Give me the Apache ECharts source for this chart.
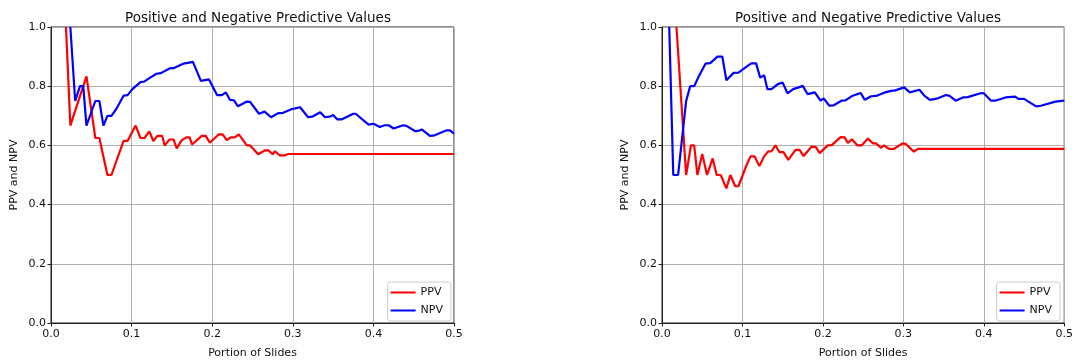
<!DOCTYPE html>
<html>
<head>
<meta charset="utf-8">
<script src="https://cdn.jsdelivr.net/npm/echarts@6/dist/echarts.min.js"></script>
<style>
html,body{margin:0;padding:0;background:#fff;}
#c{width:1076px;height:364px;}
</style>
</head>
<body>
<div id="c"></div>
<script>
const titleText = "Positive and Negative Predictive Values";
const xName = "Portion of Slides";
const yName = "PPV and NPV";
const seriesNames = ["PPV", "NPV"];
const xTicks = [0.0, 0.1, 0.2, 0.3, 0.4, 0.5];
const yTicks = [0.0, 0.2, 0.4, 0.6, 0.8, 1.0];

const leftPPV = [[0.0186,1.0],[0.024,0.667],[0.040,0.80],[0.044,0.833],[0.055,0.625],[0.060,0.625],[0.070,0.5],[0.075,0.5],[0.090,0.615],[0.095,0.615],[0.105,0.667],[0.111,0.625],[0.116,0.625],[0.122,0.647],[0.127,0.615],[0.132,0.632],[0.138,0.632],[0.141,0.60],[0.147,0.62],[0.152,0.62],[0.156,0.59],[0.162,0.617],[0.168,0.627],[0.172,0.627],[0.175,0.603],[0.187,0.632],[0.192,0.632],[0.197,0.609],[0.208,0.637],[0.213,0.637],[0.218,0.618],[0.223,0.627],[0.228,0.627],[0.233,0.637],[0.243,0.60],[0.247,0.60],[0.257,0.57],[0.265,0.583],[0.270,0.583],[0.275,0.57],[0.278,0.58],[0.284,0.566],[0.290,0.566],[0.294,0.571],[0.5,0.571]];
const leftNPV = [[0.024,1.0],[0.030,0.75],[0.036,0.80],[0.040,0.80],[0.044,0.667],[0.055,0.75],[0.060,0.75],[0.065,0.667],[0.070,0.70],[0.075,0.70],[0.081,0.723],[0.090,0.768],[0.095,0.77],[0.101,0.79],[0.111,0.814],[0.116,0.816],[0.123,0.829],[0.131,0.842],[0.136,0.844],[0.141,0.851],[0.147,0.86],[0.152,0.861],[0.158,0.868],[0.164,0.876],[0.170,0.879],[0.176,0.882],[0.186,0.818],[0.196,0.823],[0.206,0.77],[0.212,0.77],[0.217,0.779],[0.222,0.754],[0.227,0.752],[0.232,0.732],[0.243,0.748],[0.247,0.747],[0.258,0.707],[0.265,0.714],[0.273,0.695],[0.282,0.709],[0.288,0.71],[0.299,0.723],[0.303,0.725],[0.309,0.729],[0.319,0.695],[0.324,0.697],[0.334,0.712],[0.340,0.695],[0.347,0.698],[0.350,0.703],[0.355,0.688],[0.361,0.688],[0.375,0.707],[0.378,0.707],[0.394,0.67],[0.400,0.673],[0.408,0.662],[0.414,0.668],[0.419,0.668],[0.425,0.657],[0.437,0.668],[0.441,0.666],[0.452,0.648],[0.457,0.65],[0.460,0.654],[0.470,0.632],[0.476,0.634],[0.491,0.651],[0.495,0.651],[0.5,0.64]];
const rightPPV = [[0.018,1.0],[0.030,0.5],[0.036,0.6],[0.040,0.6],[0.044,0.5],[0.050,0.571],[0.056,0.5],[0.063,0.556],[0.068,0.5],[0.073,0.5],[0.080,0.455],[0.085,0.5],[0.091,0.462],[0.095,0.462],[0.105,0.533],[0.110,0.563],[0.115,0.563],[0.121,0.53],[0.127,0.563],[0.132,0.58],[0.136,0.58],[0.141,0.60],[0.146,0.577],[0.151,0.577],[0.157,0.551],[0.166,0.585],[0.171,0.585],[0.176,0.564],[0.186,0.596],[0.191,0.595],[0.196,0.574],[0.206,0.60],[0.211,0.601],[0.222,0.628],[0.227,0.627],[0.231,0.608],[0.236,0.621],[0.243,0.60],[0.248,0.60],[0.256,0.623],[0.262,0.607],[0.266,0.607],[0.272,0.592],[0.276,0.60],[0.282,0.588],[0.288,0.588],[0.299,0.607],[0.303,0.605],[0.313,0.579],[0.318,0.588],[0.5,0.588]];
const rightNPV = [[0.009,1.0],[0.014,0.5],[0.020,0.5],[0.030,0.75],[0.035,0.80],[0.040,0.80],[0.045,0.829],[0.054,0.876],[0.060,0.878],[0.069,0.90],[0.075,0.90],[0.080,0.82],[0.089,0.845],[0.095,0.846],[0.106,0.868],[0.111,0.877],[0.117,0.877],[0.122,0.829],[0.127,0.837],[0.131,0.79],[0.136,0.79],[0.144,0.807],[0.150,0.812],[0.156,0.776],[0.163,0.79],[0.170,0.796],[0.175,0.801],[0.181,0.773],[0.190,0.779],[0.197,0.751],[0.201,0.759],[0.208,0.734],[0.213,0.735],[0.223,0.751],[0.228,0.752],[0.237,0.768],[0.247,0.777],[0.252,0.754],[0.260,0.766],[0.266,0.767],[0.277,0.779],[0.285,0.784],[0.290,0.786],[0.301,0.796],[0.308,0.779],[0.320,0.788],[0.326,0.768],[0.333,0.754],[0.343,0.759],[0.353,0.77],[0.357,0.768],[0.365,0.751],[0.374,0.762],[0.380,0.763],[0.397,0.777],[0.400,0.776],[0.409,0.751],[0.414,0.751],[0.427,0.762],[0.439,0.765],[0.443,0.757],[0.450,0.757],[0.465,0.732],[0.471,0.734],[0.489,0.748],[0.5,0.751]];

const colors = ['#ff0000', '#0000ff'];
const font = 'DejaVu Sans';

const grids = [
  {left: 51, right: 622, top: 27, bottom: 37},
  {left: 662, right: 11, top: 27, bottom: 37}
];

function xAxisFor(i) {
  return {
    gridIndex: i, type: 'value', min: xTicks[0], max: xTicks[xTicks.length-1], interval: 0.1,
    name: xName, nameLocation: 'middle', nameGap: 25,
    nameTextStyle: {fontFamily: font, fontSize: 11, color: '#111'},
    axisLine: {show: true, onZero: false, lineStyle: {color: '#222', width: 1}},
    axisTick: {show: true, length: 3.5, lineStyle: {color: '#222'}},
    axisLabel: {fontFamily: font, fontSize: 11, color: '#111', margin: 6, formatter: v => v.toFixed(1)},
    splitLine: {show: true, lineStyle: {color: '#b0b0b0', width: 1}}
  };
}
function yAxisFor(i) {
  return {
    gridIndex: i, type: 'value', min: yTicks[0], max: yTicks[yTicks.length-1], interval: 0.2,
    name: yName, nameLocation: 'middle', nameGap: 31,
    nameTextStyle: {fontFamily: font, fontSize: 11, color: '#111'},
    axisLine: {show: true, onZero: false, lineStyle: {color: '#222', width: 1}},
    axisTick: {show: true, length: 3.5, lineStyle: {color: '#222'}},
    axisLabel: {fontFamily: font, fontSize: 11, color: '#111', margin: 5, formatter: v => v.toFixed(1)},
    splitLine: {show: true, lineStyle: {color: '#b0b0b0', width: 1}}
  };
}

function lineSeries(name, data, idx, color) {
  return {
    name: name, type: 'line', xAxisIndex: idx, yAxisIndex: idx, data: data,
    symbol: 'none', showSymbol: false, clip: true, animation: false,
    lineStyle: {color: color, width: 2.2}, itemStyle: {color: color}
  };
}

function legendFor(right) {
  return {
    data: seriesNames, orient: 'vertical', right: right, bottom: 43,
    itemWidth: 25, itemHeight: 10, itemGap: 7,
    padding: [5, 8, 5, 3],
    backgroundColor: '#fff', borderColor: '#cccccc', borderWidth: 1, borderRadius: 3,
    textStyle: {fontFamily: font, fontSize: 11, color: '#111'},
    icon: 'path://M0,4 L25,4 L25,6 L0,6 Z'
  };
}

const chart = echarts.init(document.getElementById('c'), null, {renderer: 'canvas'});
chart.setOption({
  animation: false,
  backgroundColor: '#fff',
  title: [
    {text: titleText, left: 253, top: 6, textAlign: 'center', textStyle: {fontFamily: font, fontSize: 13.5, fontWeight: 'normal', color: '#111'}},
    {text: titleText, left: 863, top: 6, textAlign: 'center', textStyle: {fontFamily: font, fontSize: 13.5, fontWeight: 'normal', color: '#111'}}
  ],
  grid: grids.map(g => Object.assign({show: true, borderColor: '#222', borderWidth: 1, backgroundColor: 'transparent'}, g)),
  legend: [legendFor(625), legendFor(16)],
  xAxis: [xAxisFor(0), xAxisFor(1)],
  yAxis: [yAxisFor(0), yAxisFor(1)],
  series: [
    lineSeries(seriesNames[0], leftPPV, 0, colors[0]),
    lineSeries(seriesNames[1], leftNPV, 0, colors[1]),
    lineSeries(seriesNames[0], rightPPV, 1, colors[0]),
    lineSeries(seriesNames[1], rightNPV, 1, colors[1])
  ]
});
</script>
</body>
</html>
